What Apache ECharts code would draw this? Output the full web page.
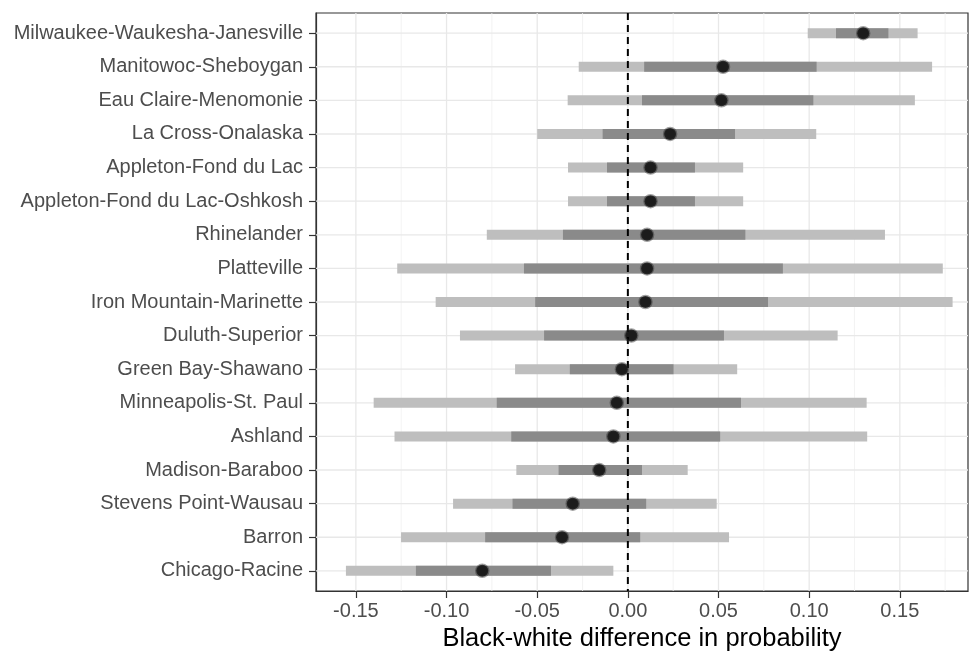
<!DOCTYPE html>
<html>
<head>
<meta charset="utf-8">
<script src="https://cdn.jsdelivr.net/npm/echarts@6/dist/echarts.min.js"></script>
<style>html,body{margin:0;padding:0;background:#fff}#c{width:970px;height:651px}</style>
</head>
<body>
<div id="c"></div>
<script>
const categories = ['Milwaukee-Waukesha-Janesville','Manitowoc-Sheboygan','Eau Claire-Menomonie','La Cross-Onalaska','Appleton-Fond du Lac','Appleton-Fond du Lac-Oshkosh','Rhinelander','Platteville','Iron Mountain-Marinette','Duluth-Superior','Green Bay-Shawano','Minneapolis-St. Paul','Ashland','Madison-Baraboo','Stevens Point-Wausau','Barron','Chicago-Racine'];
const estimate = [0.1298,0.0525,0.0516,0.0233,0.0125,0.0125,0.0106,0.0106,0.0097,0.0019,-0.0033,-0.0061,-0.0080,-0.0158,-0.0304,-0.0363,-0.0803];
const lower95 = [0.0992,-0.0271,-0.0332,-0.0500,-0.0330,-0.0330,-0.0778,-0.1272,-0.1060,-0.0926,-0.0622,-0.1402,-0.1287,-0.0615,-0.0964,-0.1251,-0.1555];
const upper95 = [0.1598,0.1678,0.1583,0.1039,0.0636,0.0636,0.1418,0.1737,0.1791,0.1157,0.0603,0.1317,0.1320,0.0330,0.0490,0.0558,-0.0080];
const lower50 = [0.1148,0.0090,0.0078,-0.0139,-0.0115,-0.0115,-0.0358,-0.0573,-0.0511,-0.0462,-0.0320,-0.0723,-0.0643,-0.0382,-0.0636,-0.0787,-0.1169];
const upper50 = [0.1437,0.1041,0.1023,0.0591,0.0370,0.0370,0.0648,0.0855,0.0773,0.0530,0.0252,0.0624,0.0509,0.0078,0.0101,0.0068,-0.0424];
const xTicks = [-0.15,-0.10,-0.05,0.00,0.05,0.10,0.15];
const xMinor = [-0.125,-0.075,-0.025,0.025,0.075,0.125,0.175];
const xTitle = 'Black-white difference in probability';

const X_MIN = -0.172, X_MAX = 0.1876;
const Y_MIN = -0.6, Y_MAX = categories.length - 1 + 0.6;
const rowIdx = categories.map((_, i) => i);
const FONT = "'Liberation Sans', Arial, sans-serif";

function vLine(color, width) {
  return function (params, api) {
    const p1 = api.coord([api.value(0), Y_MIN]);
    const p2 = api.coord([api.value(0), Y_MAX]);
    return {type: 'line', shape: {x1: p1[0], y1: p1[1], x2: p2[0], y2: p2[1]}, style: {stroke: color, lineWidth: width}};
  };
}
function hLine(color, width) {
  return function (params, api) {
    const p1 = api.coord([X_MIN, api.value(0)]);
    const p2 = api.coord([X_MAX, api.value(0)]);
    return {type: 'line', shape: {x1: p1[0], y1: p1[1], x2: p2[0], y2: p2[1]}, style: {stroke: color, lineWidth: width}};
  };
}
function bar(color, h) {
  return function (params, api) {
    const a = api.coord([api.value(0), api.value(2)]);
    const b = api.coord([api.value(1), api.value(2)]);
    return {type: 'rect', shape: {x: a[0], y: a[1] - h / 2, width: b[0] - a[0], height: h}, style: {fill: color}};
  };
}

const chart = echarts.init(document.getElementById('c'), null, {renderer: 'canvas'});
chart.setOption({
  animation: false,
  backgroundColor: '#ffffff',
  grid: {left: 316, right: 2, top: 13, bottom: 60, outerBoundsMode: 'none', containLabel: false, show: true, borderColor: '#333333', borderWidth: 1.2, backgroundColor: 'transparent'},
  xAxis: {
    type: 'value', min: X_MIN, max: X_MAX, splitNumber: 7,
    name: xTitle, nameLocation: 'middle', nameGap: 34,
    nameTextStyle: {fontFamily: FONT, fontSize: 25.5, color: '#000000'},
    axisLine: {show: true, onZero: false, lineStyle: {color: '#333333', width: 1.2}},
    axisTick: {show: true, length: 7, customValues: xTicks, lineStyle: {color: '#333333', width: 1.2}},
    axisLabel: {customValues: xTicks, margin: 10, fontFamily: FONT, fontSize: 20, color: '#4d4d4d', formatter: v => v.toFixed(2)},
    splitLine: {show: false}
  },
  yAxis: {
    type: 'value', min: Y_MIN, max: Y_MAX, inverse: true,
    axisLine: {show: true, onZero: false, lineStyle: {color: '#333333', width: 1.2}},
    axisTick: {show: true, length: 7, customValues: rowIdx, lineStyle: {color: '#333333', width: 1.2}},
    axisLabel: {customValues: rowIdx, margin: 13, fontFamily: FONT, fontSize: 20, color: '#4d4d4d', formatter: v => categories[Math.round(v)] || ''},
    splitLine: {show: false}
  },
  series: [
    {type: 'custom', z: 1, silent: true, renderItem: vLine('#f0f0f0', 0.8), data: xMinor.map(v => [v]), encode: {x: 0}},
    {type: 'custom', z: 1, silent: true, renderItem: vLine('#e8e8e8', 1.3), data: xTicks.map(v => [v]), encode: {x: 0}},
    {type: 'custom', z: 1, silent: true, renderItem: hLine('#e8e8e8', 1.3), data: rowIdx.map(v => [v]), encode: {y: 0}},
    {type: 'custom', z: 2, silent: true, renderItem: bar('#bebebe', 10), data: rowIdx.map(i => [lower95[i], upper95[i], i]), encode: {x: [0, 1], y: 2}},
    {type: 'custom', z: 3, silent: true, renderItem: bar('#8a8a8a', 10), data: rowIdx.map(i => [lower50[i], upper50[i], i]), encode: {x: [0, 1], y: 2}},
    {type: 'line', z: 4, silent: true, symbol: 'none', data: [[0, Y_MIN], [0, Y_MAX]], lineStyle: {color: '#000000', width: 2, type: [7, 5]}},
    {type: 'scatter', z: 5, silent: true, symbol: 'circle', symbolSize: 12, data: rowIdx.map(i => [estimate[i], i]), itemStyle: {color: '#000000', borderColor: 'rgba(40,40,40,0.55)', borderWidth: 2.5}}
  ]
});
</script>
</body>
</html>
